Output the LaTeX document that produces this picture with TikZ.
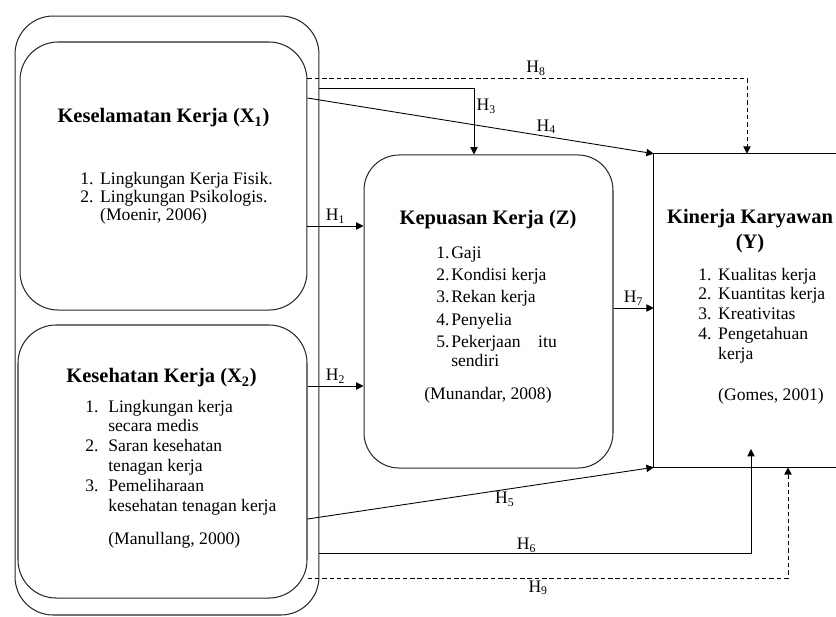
\documentclass[tikz,border=0pt]{standalone}
\usepackage{fontspec}
\setmainfont{Liberation Serif}
\usetikzlibrary{positioning, arrows.meta, calc}
\tikzset{
  groupbox/.style={
    draw=black!85, line width=0.7pt,
    rounded corners=26pt,
    inner sep=0pt
  },
  varbox/.style={
    draw=black!85, line width=0.7pt,
    rounded corners=#1,
    inner sep=0pt
  },
  vartitle/.style={
    font=\fontsize{14}{17}\selectfont\bfseries,
    align=center,
    inner sep=0pt
  },
  indlist/.style={
    font=\fontsize{12}{#1}\selectfont,
    anchor=base west,
    inner sep=0pt
  },
  link/.style={
    -{Triangle[length=5pt,width=5pt]},
    line width=0.6pt,
    draw=black
  },
  dashlink/.style={
    link,
    dash pattern=on 3pt off 2pt
  },
  hlabel/.style={
    font=\fontsize{12}{14}\selectfont,
    inner sep=1.5pt
  }
}
\newcommand{\hipo}[1]{H\textsubscript{#1}}

\begin{document}
\begin{tikzpicture}[x=0.682pt, y=-0.682pt]
  \useasboundingbox (0,0) rectangle (836,616);

  % boxes
  \node[groupbox, minimum width=207.3pt, minimum height=408.5pt] (grup) at (167,315.5) {};
  \node[varbox=26pt, minimum width=195.7pt, minimum height=182.8pt] (kesel) at (163.5,176) {};
  \node[varbox=26pt, minimum width=197.1pt, minimum height=186.2pt] (kesehat) at (162.5,461.5) {};
  \node[varbox=24pt, minimum width=169.8pt, minimum height=213.5pt] (kepuasan) at (488.5,311.5) {};
  \node[inner sep=0pt, minimum width=124.1pt, minimum height=213.5pt] (kinerja) at (745,310.5) {};
  \draw[line width=0.7pt] (kinerja.north east) -- (kinerja.north west)
    -- (kinerja.south west) -- (kinerja.south east);

  % texts
  \node[vartitle] (keseltitle) at (163.5,118) {Keselamatan Kerja (X\textsubscript{1})};
  \node[indlist=12.3pt] (kesellist) at (80,184) {%
    \begin{tabular}[t]{@{}l@{\hspace{4.6pt}}l@{}}
      1. & Lingkungan Kerja Fisik.\\
      2. & Lingkungan Psikologis.\\
         & (Moenir, 2006)
    \end{tabular}};

  \node[vartitle] (kesehattitle) at (161.5,378) {Kesehatan Kerja (X\textsubscript{2})};
  \node[indlist=13.6pt] (kesehatlist) at (85,412) {%
    \begin{tabular}[t]{@{}l@{\hspace{6.7pt}}l@{}}
      1. & Lingkungan kerja\\
         & secara medis\\
      2. & Saran kesehatan\\
         & tenagan kerja\\
      3. & Pemeliharaan\\
         & kesehatan tenagan kerja\\[9pt]
         & (Manullang, 2000)
    \end{tabular}};

  \node[vartitle] (kepuasantitle) at (488,220) {Kepuasan Kerja (Z)};
  \node[indlist=15.3pt] (kepuasanlist) at (436,258) {%
    \begin{tabular}[t]{@{}l@{\hspace{1.2pt}}l@{}}
      1. & Gaji\\
      2. & Kondisi kerja\\
      3. & Rekan kerja\\
      4. & Penyelia\\
      5. & Pekerjaan\hspace{12pt}itu\\[-2.4pt]
         & sendiri
    \end{tabular}};
  \node[font=\fontsize{12}{14}\selectfont, inner sep=0pt] (kepuasancite) at (488,395) {(Munandar, 2008)};

  \node[vartitle] (kinerjatitle) at (750,231.5) {Kinerja Karyawan\\(Y)};
  \node[indlist=13.6pt] (kinerjalist) at (698,280) {%
    \begin{tabular}[t]{@{}l@{\hspace{4.6pt}}l@{}}
      1. & Kualitas kerja\\
      2. & Kuantitas kerja\\
      3. & Kreativitas\\
      4. & Pengetahuan\\
         & kerja\\[14.3pt]
         & (Gomes, 2001)
    \end{tabular}};

  % hypotheses
  \coordinate (h6tip) at (751,449);
  \draw[dashlink] (kesel.east |- 0,78) -| node[hlabel, above, pos=0.26] {\hipo{8}} (747,0 |- kinerja.north);
  \draw[link] (grup.east |- 0,88) -| node[hlabel, right, pos=0.64] {\hipo{3}} (474,0 |- kepuasan.north);
  \draw[link] (kesel.east |- 0,98) -- node[hlabel, above, pos=0.69] {\hipo{4}} (kinerja.north west);
  \draw[link] (kesel.east |- 0,226) -- node[hlabel, above] {\hipo{1}} (kepuasan.west |- 0,226);
  \draw[link] (kesehat.east |- 0,386) -- node[hlabel, above] {\hipo{2}} (kepuasan.west |- 0,386);
  \draw[link] (kepuasan.east |- 0,308) -- node[hlabel, above] {\hipo{7}} (kinerja.west |- 0,308);
  \draw[link] (kesehat.east |- 0,519) -- node[hlabel, below, pos=0.57] {\hipo{5}} (kinerja.south west);
  \draw[link] (grup.east |- 0,553) -| node[hlabel, above, pos=0.24, inner sep=0pt] {\hipo{6}} (h6tip);
  \draw[dashlink] (kesehat.east |- 0,578) -| node[hlabel, below, pos=0.24] {\hipo{9}} (788,0 |- kinerja.south);
\end{tikzpicture}
\end{document}
